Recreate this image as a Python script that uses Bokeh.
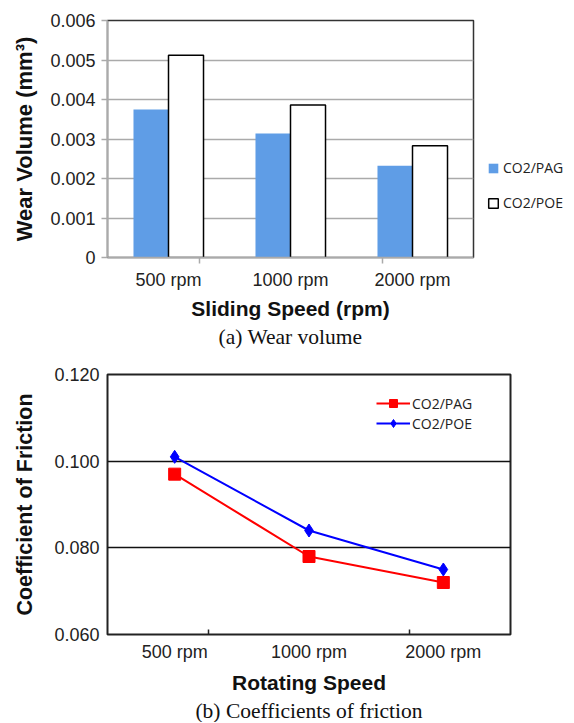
from bokeh.plotting import figure
from bokeh.layouts import column
from bokeh.models import (ColumnDataSource, Range1d, FixedTicker, FactorRange, CategoricalAxis,
                          Legend, LegendItem, Title)
from bokeh.transform import dodge
from bokeh.embed import file_html
from bokeh.resources import INLINE

# ---------------- data ----------------
speeds = ["500 rpm", "1000 rpm", "2000 rpm"]
wear_pag = [0.00375, 0.00314, 0.00232]
wear_poe = [0.00512, 0.00386, 0.00283]
wear_ticks = [0, 0.001, 0.002, 0.003, 0.004, 0.005, 0.006]
wear_tick_labels = ["0", "0.001", "0.002", "0.003", "0.004", "0.005", "0.006"]

cof_pag = [0.097, 0.078, 0.072]
cof_poe = [0.101, 0.084, 0.075]
cof_ticks = [0.06, 0.08, 0.1, 0.12]
cof_tick_labels = ["0.060", "0.080", "0.100", "0.120"]

# category boundaries (for the small tick marks between categories)
boundaries = ["b0", "b1", "b2", "b3"]

FONT = "Liberation Sans"
SERIF = "Liberation Serif"
LEG_FONT = "Open Sans"
BLUE_BAR = "#5f9de6"


def boundary_range():
    # factor centres fall on the category boundaries of the main range
    return FactorRange(factors=boundaries, range_padding=-1, range_padding_units="absolute")


# ---------------- (a) wear volume ----------------
src1 = ColumnDataSource(dict(cat=speeds, pag=wear_pag, poe=wear_poe))
p1 = figure(x_range=speeds, y_range=Range1d(0, 0.006), frame_width=366, frame_height=237,
            min_border_left=107, min_border_right=92, min_border_top=20, min_border_bottom=92,
            x_axis_location=None, toolbar_location=None, output_backend="svg", title=None,
            background_fill_color="white", border_fill_color="white")
p1.extra_x_ranges = {"bnd": boundary_range()}

b1 = p1.vbar(x=dodge("cat", -0.1435, range=p1.x_range), top="pag", width=0.287, source=src1,
             fill_color=BLUE_BAR, line_color=None)
b2 = p1.vbar(x=dodge("cat", 0.1435, range=p1.x_range), top="poe", width=0.287, source=src1,
             fill_color="white", line_color="black", line_width=1.5)

p1.outline_line_color = "#333333"
p1.outline_line_width = 1.5
p1.xgrid.visible = False
p1.ygrid.grid_line_color = "#aaaaaa"
p1.ygrid.grid_line_width = 1.5

ya = p1.yaxis[0]
ya.ticker = FixedTicker(ticks=wear_ticks, minor_ticks=[])
ya.major_label_overrides = dict(zip(wear_ticks, wear_tick_labels))
ya.axis_line_color = "#aaaaaa"
ya.axis_line_width = 1.5
ya.major_tick_line_color = "#aaaaaa"
ya.major_tick_line_width = 1.5
ya.major_tick_in = 0
ya.major_tick_out = 6
ya.minor_tick_line_color = None
ya.major_label_standoff = 6
ya.major_label_text_font = FONT
ya.major_label_text_font_size = "18px"
ya.major_label_text_color = "#222222"
ya.axis_label = "Wear Volume (mm³)"
ya.axis_label_text_font = FONT
ya.axis_label_text_font_size = "22px"
ya.axis_label_text_font_style = "bold"
ya.axis_label_text_color = "#111111"
ya.axis_label_standoff = 10

tick1 = CategoricalAxis(x_range_name="bnd",
                        axis_line_color="#aaaaaa", axis_line_width=1.5,
                        major_tick_line_color="#aaaaaa", major_tick_line_width=1.5,
                        major_tick_in=0, major_tick_out=6, minor_tick_line_color=None,
                        major_label_text_font_size="0px", major_label_standoff=0,
                        major_label_text_alpha=0)
p1.add_layout(tick1, "below")

cat1 = CategoricalAxis(axis_line_color=None, major_tick_line_color=None, minor_tick_line_color=None,
                       major_tick_in=0, major_tick_out=0, major_label_standoff=6,
                       major_label_text_font=FONT, major_label_text_font_size="18px",
                       major_label_text_color="#222222",
                       axis_label="Sliding Speed (rpm)", axis_label_text_font=FONT,
                       axis_label_text_font_size="21px", axis_label_text_font_style="bold",
                       axis_label_text_color="#111111", axis_label_standoff=4)
p1.add_layout(cat1, "below")
p1.add_layout(Title(text="(a) Wear volume", align="center", text_font=SERIF,
                    text_font_size="21.5px", text_font_style="normal", text_color="#111111",
                    standoff=0), "below")

leg1 = Legend(items=[LegendItem(label="CO2/PAG", renderers=[b1]),
                     LegendItem(label="CO2/POE", renderers=[b2])],
              location=(14, 45), orientation="vertical",
              glyph_width=12, glyph_height=12, label_height=12, label_standoff=4, spacing=16,
              padding=9, margin=0, border_line_color=None, background_fill_alpha=0,
              label_text_font=LEG_FONT, label_text_font_size="14px", label_text_color="#222222")
p1.add_layout(leg1, "right")

# ---------------- (b) coefficient of friction ----------------
src2 = ColumnDataSource(dict(cat=speeds, pag=cof_pag, poe=cof_poe))
p2 = figure(x_range=speeds, y_range=Range1d(0.06, 0.12), frame_width=403, frame_height=260,
            min_border_left=104, min_border_right=59, min_border_top=25, min_border_bottom=88,
            x_axis_location=None, toolbar_location=None, output_backend="svg", title=None,
            background_fill_color="white", border_fill_color="white")
p2.extra_x_ranges = {"bnd": boundary_range()}

l1 = p2.line(x="cat", y="pag", source=src2, line_color="#ff0000", line_width=2)
m1 = p2.scatter(x="cat", y="pag", source=src2, marker="square", size=12,
                fill_color="#ff0000", line_color="#ff0000")
l2 = p2.line(x="cat", y="poe", source=src2, line_color="#0000ff", line_width=2)
m2 = p2.scatter(x="cat", y="poe", source=src2, marker="diamond", size=13,
                fill_color="#0000ff", line_color="#0000ff")

p2.outline_line_color = "#222222"
p2.outline_line_width = 2
p2.xgrid.visible = False
p2.ygrid.grid_line_color = "#111111"
p2.ygrid.grid_line_width = 1.5

yb = p2.yaxis[0]
yb.ticker = FixedTicker(ticks=cof_ticks, minor_ticks=[])
yb.major_label_overrides = dict(zip(cof_ticks, cof_tick_labels))
yb.axis_line_color = None
yb.major_tick_line_color = None
yb.minor_tick_line_color = None
yb.major_tick_in = 0
yb.major_tick_out = 0
yb.major_label_standoff = 8
yb.major_label_text_font = FONT
yb.major_label_text_font_size = "18px"
yb.major_label_text_color = "#222222"
yb.axis_label = "Coefficient of Friction"
yb.axis_label_text_font = FONT
yb.axis_label_text_font_size = "21.5px"
yb.axis_label_text_font_style = "bold"
yb.axis_label_text_color = "#111111"
yb.axis_label_standoff = 14

tick2 = CategoricalAxis(x_range_name="bnd",
                        axis_line_color=None, major_tick_line_color="#222222",
                        major_tick_line_width=1.5,
                        major_tick_in=5, major_tick_out=0, minor_tick_line_color=None,
                        major_label_text_font_size="0px", major_label_standoff=0,
                        major_label_text_alpha=0)
p2.add_layout(tick2, "below")

cat2 = CategoricalAxis(axis_line_color=None, major_tick_line_color=None, minor_tick_line_color=None,
                       major_tick_in=0, major_tick_out=0, major_label_standoff=7,
                       major_label_text_font=FONT, major_label_text_font_size="18px",
                       major_label_text_color="#222222",
                       axis_label="Rotating Speed", axis_label_text_font=FONT,
                       axis_label_text_font_size="21px", axis_label_text_font_style="bold",
                       axis_label_text_color="#111111", axis_label_standoff=6)
p2.add_layout(cat2, "below")
p2.add_layout(Title(text="(b) Coefficients of friction", align="center", text_font=SERIF,
                    text_font_size="21.5px", text_font_style="normal", text_color="#111111",
                    standoff=0), "below")

leg2 = Legend(items=[LegendItem(label="CO2/PAG", renderers=[l1, m1]),
                     LegendItem(label="CO2/POE", renderers=[l2, m2])],
              location=(269, 201), orientation="vertical",
              glyph_width=34, glyph_height=20, label_height=20, label_standoff=2, spacing=0,
              padding=0, margin=0, border_line_color=None, background_fill_alpha=0,
              label_text_font=LEG_FONT, label_text_font_size="14px", label_text_color="#222222")
p2.add_layout(leg2, "center")

layout = column(p1, p2, spacing=0)
open("out.html", "w").write(file_html(layout, INLINE))
